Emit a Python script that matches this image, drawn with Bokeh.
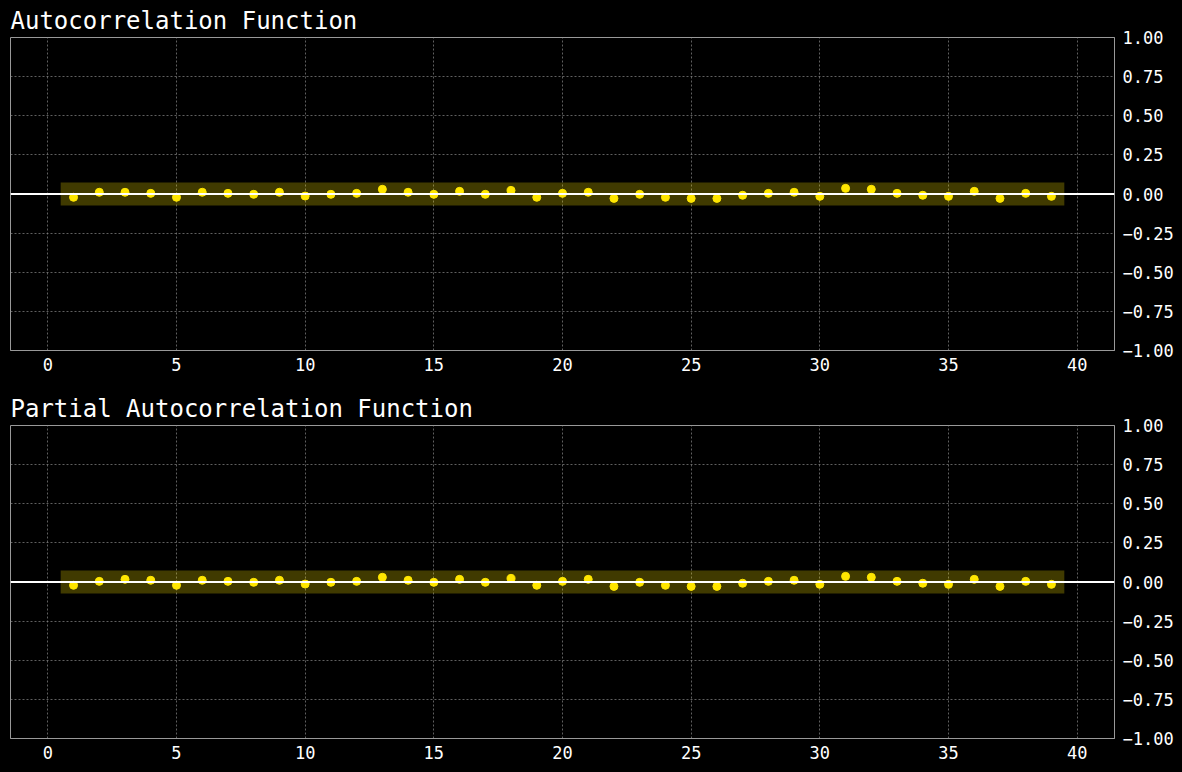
from bokeh.plotting import figure
from bokeh.layouts import column
from bokeh.models import LinearAxis, FixedTicker, Range1d, ColumnDataSource, Span
from bokeh.embed import file_html
from bokeh.resources import INLINE

lags = list(range(1, 40))
acf_vals = [-0.021, 0.011, 0.011, 0.004, -0.021, 0.011, 0.004, -0.002, 0.011, -0.013,
            -0.002, 0.004, 0.030, 0.011, -0.002, 0.017, -0.002, 0.023, -0.021, 0.004,
            0.011, -0.028, -0.002, -0.021, -0.028, -0.028, -0.008, 0.004, 0.011, -0.015,
            0.036, 0.030, 0.004, -0.008, -0.015, 0.017, -0.028, 0.004, -0.015]
pacf_vals = [-0.021, 0.004, 0.017, 0.011, -0.021, 0.011, 0.004, -0.002, 0.011, -0.013,
             -0.002, 0.004, 0.030, 0.011, -0.002, 0.017, -0.002, 0.023, -0.021, 0.004,
             0.017, -0.028, -0.002, -0.021, -0.028, -0.028, -0.008, 0.004, 0.011, -0.015,
             0.036, 0.030, 0.004, -0.008, -0.015, 0.017, -0.028, 0.004, -0.015]
conf = 0.073
band_x = [0.5, 39.5]
x_ticks = [0, 5, 10, 15, 20, 25, 30, 35, 40]
y_ticks = [-1.0, -0.75, -0.5, -0.25, 0.0, 0.25, 0.5, 0.75, 1.0]
titles = ["Autocorrelation Function", "Partial Autocorrelation Function"]

FONT = "DejaVu Sans Mono"
BG = "#000000"
GRID = "#888888"
BORDER = "#999999"


def make(title, vals, bottom):
    p = figure(frame_width=1104, frame_height=313, output_backend="svg", toolbar_location=None,
               x_range=Range1d(-1.45, 41.45), y_range=Range1d(-1, 1),
               y_axis_location=None, min_border_left=10, min_border_right=68,
               min_border_top=37, min_border_bottom=bottom)
    p.title.text = title
    p.title.text_font = FONT
    p.title.text_font_size = "24px"
    p.title.text_font_style = "normal"
    p.title.text_color = "#ffffff"
    p.title.offset = 0
    p.title.standoff = 5
    p.background_fill_color = BG
    p.border_fill_color = BG
    p.outline_line_color = BORDER
    p.outline_line_width = 1
    p.styles = {"background-color": BG}

    yax = LinearAxis(ticker=FixedTicker(ticks=y_ticks))
    yax.major_label_overrides = {t: ("%.2f" % t).replace("-", "\u2212") for t in y_ticks}
    p.add_layout(yax, "right")

    for ax in p.axis:
        ax.axis_line_color = BORDER
        ax.major_tick_line_color = None
        ax.minor_tick_line_color = None
        ax.major_label_text_font = FONT
        ax.major_label_text_font_size = "17px"
        ax.major_label_text_color = "#ffffff"
    yax.major_label_standoff = 2
    p.xaxis.major_label_standoff = 1
    p.xaxis.ticker = FixedTicker(ticks=x_ticks)

    for g in p.grid:
        g.grid_line_color = GRID
        g.grid_line_dash = "2 2"
        g.grid_line_width = 0.7
    p.xgrid.ticker = FixedTicker(ticks=x_ticks)
    p.ygrid.ticker = FixedTicker(ticks=y_ticks)

    p.varea(x=band_x, y1=[-conf, -conf], y2=[conf, conf], fill_color="#FFE600", fill_alpha=0.25)
    p.add_layout(Span(location=0, dimension="width", line_color="#ffffff", line_width=2))
    src = ColumnDataSource(dict(x=lags, y=vals))
    p.scatter("x", "y", source=src, size=8, fill_color="#FFE600", line_color="#FFE600")
    return p


p1 = make(titles[0], acf_vals, 38)
p2 = make(titles[1], pacf_vals, 33)
layout = column(p1, p2, spacing=0)
layout.styles = {"background-color": BG}
html = file_html(layout, INLINE)
html = html.replace("<body>", '<body style="background-color:#000000;">', 1)
html = html.replace("</head>", "<style>html,body{background-color:#000000 !important;}</style></head>", 1)
open("out.html", "w").write(html)
